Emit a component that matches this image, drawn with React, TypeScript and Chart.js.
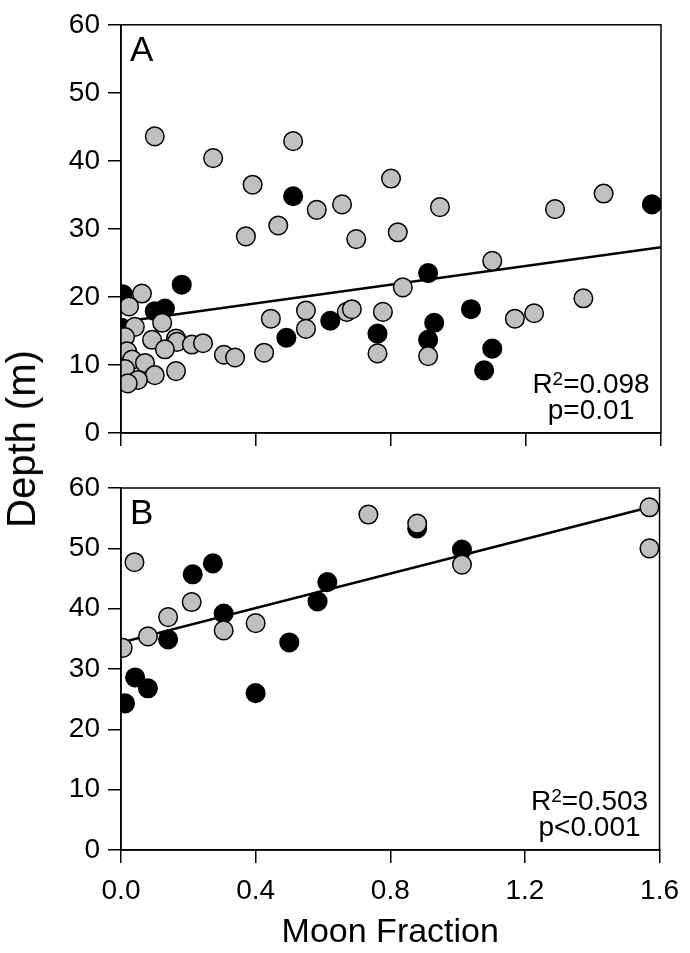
import React, { useEffect, useRef } from "react";
import { Chart, registerables } from "chart.js";

Chart.register(...registerables);

// ---------------- data ----------------
const xTickValues = [0, 0.4, 0.8, 1.2, 1.6];
const xTickLabels = ["0.0", "0.4", "0.8", "1.2", "1.6"];
const yTickValues = [0, 10, 20, 30, 40, 50, 60];

// Panel A – gray symbols
const panelAGray = [
  { x: 0.1, y: 43.6 }, { x: 0.273, y: 40.4 }, { x: 0.39, y: 36.5 }, { x: 0.51, y: 42.9 },
  { x: 0.58, y: 32.8 }, { x: 0.655, y: 33.6 }, { x: 0.8, y: 37.4 }, { x: 0.37, y: 28.9 },
  { x: 0.466, y: 30.5 }, { x: 0.697, y: 28.5 }, { x: 0.82, y: 29.5 }, { x: 0.945, y: 33.2 },
  { x: 1.286, y: 32.9 }, { x: 1.43, y: 35.2 }, { x: 1.1, y: 25.3 }, { x: 0.835, y: 21.4 },
  { x: 0.776, y: 17.8 }, { x: 0.76, y: 11.7 }, { x: 0.91, y: 11.3 }, { x: 1.167, y: 16.8 },
  { x: 1.224, y: 17.6 }, { x: 1.37, y: 19.8 }, { x: 0.444, y: 16.8 }, { x: 0.424, y: 11.8 },
  { x: 0.548, y: 18.0 }, { x: 0.548, y: 15.3 }, { x: 0.669, y: 17.8 }, { x: 0.684, y: 18.2 },
  { x: 0.062, y: 20.5 }, { x: 0.024, y: 18.6 }, { x: 0.122, y: 16.2 }, { x: 0.041, y: 15.6 },
  { x: 0.012, y: 14.1 }, { x: 0.092, y: 13.7 }, { x: 0.163, y: 13.9 }, { x: 0.166, y: 13.4 },
  { x: 0.13, y: 12.3 }, { x: 0.21, y: 13.0 }, { x: 0.243, y: 13.2 }, { x: 0.305, y: 11.5 },
  { x: 0.338, y: 11.1 }, { x: 0.018, y: 12.0 }, { x: 0.033, y: 10.8 }, { x: 0.071, y: 10.3 },
  { x: 0.012, y: 9.4 }, { x: 0.1, y: 8.5 }, { x: 0.163, y: 9.1 }, { x: 0.05, y: 7.8 },
  { x: 0.02, y: 7.3 },
];

// Panel A – black symbols
const panelABlack = [
  { x: 0.51, y: 34.8 }, { x: 1.573, y: 33.6 }, { x: 0.18, y: 21.8 }, { x: 0.005, y: 20.4 },
  { x: 0.1, y: 17.9 }, { x: 0.13, y: 18.3 }, { x: 0.0, y: 15.5 }, { x: 0.49, y: 14.0 },
  { x: 0.62, y: 16.5 }, { x: 0.76, y: 14.6 }, { x: 0.91, y: 23.5 }, { x: 0.928, y: 16.2 },
  { x: 0.91, y: 13.7 }, { x: 1.037, y: 18.2 }, { x: 1.1, y: 12.4 }, { x: 1.076, y: 9.2 },
];

const panelAFit = [{ x: 0, y: 16.3 }, { x: 1.6, y: 27.3 }];

// Panel B
const panelBGray = [
  { x: 0.04, y: 47.7 }, { x: 0.735, y: 55.6 }, { x: 0.21, y: 41.1 }, { x: 0.14, y: 38.6 },
  { x: 0.305, y: 36.4 }, { x: 0.4, y: 37.6 }, { x: 0.08, y: 35.4 }, { x: 0.005, y: 33.5 },
  { x: 0.88, y: 54.1 }, { x: 1.013, y: 47.3 }, { x: 1.57, y: 56.8 }, { x: 1.57, y: 50.0 },
];

const panelBBlack = [
  { x: 0.213, y: 45.7 }, { x: 0.273, y: 47.5 }, { x: 0.305, y: 39.2 }, { x: 0.613, y: 44.4 },
  { x: 0.584, y: 41.2 }, { x: 0.14, y: 34.9 }, { x: 0.5, y: 34.4 }, { x: 0.012, y: 24.3 },
  { x: 0.042, y: 28.6 }, { x: 0.08, y: 26.8 }, { x: 0.4, y: 26.0 }, { x: 0.88, y: 53.3 },
  { x: 1.013, y: 49.8 },
];

const panelBFit = [{ x: 0, y: 34.4 }, { x: 1.57, y: 56.8 }];

const statsA = { letter: "A", r2: "0.098", p: "p=0.01" };
const statsB = { letter: "B", r2: "0.503", p: "p<0.001" };

const xTitle = "Moon Fraction";
const yTitle = "Depth (m)";

// ---------------- styling ----------------
const FONT = "'Liberation Sans', Arial, Helvetica, sans-serif";
const GRAY = "#c0c0c0";

const decorPlugin = {
  id: "panelDecor",
  afterDatasetsDraw(chart: any, _args: any, opts: any) {
    const { ctx, chartArea: ca } = chart;
    ctx.save();
    ctx.strokeStyle = "#000";
    ctx.lineWidth = 1.5;
    ctx.strokeRect(ca.left, ca.top, ca.right - ca.left, ca.bottom - ca.top);

    ctx.fillStyle = "#000";
    ctx.textAlign = "left";
    ctx.textBaseline = "alphabetic";
    ctx.font = `35px ${FONT}`;
    ctx.fillText(opts.letter, ca.left + 9, ca.top + 36);

    const cx = ca.right - 70;
    const y1 = ca.bottom - 40;
    const y2 = ca.bottom - 14;
    ctx.font = `28px ${FONT}`;
    const wR = ctx.measureText("R").width;
    const wRest = ctx.measureText("=" + opts.r2).width;
    ctx.font = `19px ${FONT}`;
    const w2 = ctx.measureText("2").width;
    let x = cx - (wR + w2 + wRest) / 2;
    ctx.font = `28px ${FONT}`;
    ctx.fillText("R", x, y1);
    x += wR;
    ctx.font = `19px ${FONT}`;
    ctx.fillText("2", x, y1 - 8);
    x += w2;
    ctx.font = `28px ${FONT}`;
    ctx.fillText("=" + opts.r2, x, y1);
    ctx.textAlign = "center";
    ctx.fillText(opts.p, cx, y2);
    ctx.restore();
  },
};

function buildConfig(
  gray: any[],
  black: any[],
  fit: any[],
  stats: any,
  showXLabels: boolean,
  xAxisHeight: number,
  padTop: number
): any {
  const tickFont = { family: FONT, size: 28 };
  return {
    type: "scatter",
    data: {
      datasets: [
        {
          data: gray,
          backgroundColor: GRAY,
          borderColor: "#000",
          borderWidth: 1.5,
          pointRadius: 9.3,
          order: 0,
          clip: 0,
        },
        {
          data: black,
          backgroundColor: "#000",
          borderColor: "#000",
          borderWidth: 1.5,
          pointRadius: 9.3,
          order: 1,
          clip: 0,
        },
        {
          data: fit,
          showLine: true,
          pointRadius: 0,
          borderColor: "#000",
          borderWidth: 2.5,
          order: 2,
          clip: 0,
        },
      ],
    },
    options: {
      animation: false,
      responsive: false,
      maintainAspectRatio: false,
      events: [],
      layout: { padding: { top: padTop, right: 29, bottom: 0, left: 0 } },
      plugins: {
        legend: { display: false },
        tooltip: { enabled: false },
        panelDecor: stats,
      },
      scales: {
        x: {
          type: "linear",
          min: 0,
          max: 1.6,
          afterBuildTicks: (s: any) => {
            s.ticks = xTickValues.map((v) => ({ value: v }));
          },
          afterFit: (s: any) => {
            s.height = xAxisHeight;
          },
          ticks: {
            display: showXLabels,
            autoSkip: false,
            maxRotation: 0,
            padding: 11,
            color: "#000",
            font: tickFont,
            callback: (v: number) => {
              const i = xTickValues.findIndex((t) => Math.abs(t - v) < 1e-6);
              return i >= 0 ? xTickLabels[i] : "";
            },
          },
          grid: {
            drawOnChartArea: false,
            drawTicks: true,
            tickLength: 13,
            color: "#000",
            lineWidth: 1.5,
          },
          border: { display: true, color: "#000", width: 1.5 },
          title: showXLabels
            ? {
                display: true,
                text: xTitle,
                color: "#000",
                font: { family: FONT, size: 34, lineHeight: 1 },
                padding: { top: 0, bottom: 3 },
              }
            : { display: false },
        },
        y: {
          type: "linear",
          min: 0,
          max: 60,
          afterBuildTicks: (s: any) => {
            s.ticks = yTickValues.map((v) => ({ value: v }));
          },
          afterFit: (s: any) => {
            s.width = 121;
          },
          ticks: {
            padding: 8,
            color: "#000",
            font: tickFont,
            callback: (v: number) => String(v),
          },
          grid: {
            drawOnChartArea: false,
            drawTicks: true,
            tickLength: 13,
            color: "#000",
            lineWidth: 1.5,
          },
          border: { display: true, color: "#000", width: 1.5 },
        },
      },
    },
    plugins: [decorPlugin],
  };
}

function Panel(props: { top: number; height: number; config: any }) {
  const ref = useRef<HTMLCanvasElement | null>(null);
  useEffect(() => {
    if (!ref.current) return;
    const chart = new Chart(ref.current, props.config);
    return () => chart.destroy();
  }, []);
  return (
    <canvas
      ref={ref}
      width={690}
      height={props.height}
      style={{
        position: "absolute",
        left: 0,
        top: props.top,
        width: 690,
        height: props.height,
      }}
    />
  );
}

export default function App() {
  const cfgA = buildConfig(panelAGray, panelABlack, panelAFit, statsA, false, 27, 17);
  const cfgB = buildConfig(panelBGray, panelBBlack, panelBFit, statsB, true, 103, 28);
  return (
    <div
      style={{
        position: "absolute",
        left: 0,
        top: 0,
        width: 690,
        height: 953,
        background: "#fff",
        overflow: "hidden",
      }}
    >
      <Panel top={0} height={460} config={cfgA} />
      <Panel top={460} height={493} config={cfgB} />
      <div
        style={{
          position: "absolute",
          left: 21,
          top: 439,
          transform: "translate(-50%, -50%) rotate(-90deg)",
          fontFamily: FONT,
          fontSize: 40,
          lineHeight: 1,
          whiteSpace: "nowrap",
          color: "#000",
        }}
      >
        {yTitle}
      </div>
    </div>
  );
}
